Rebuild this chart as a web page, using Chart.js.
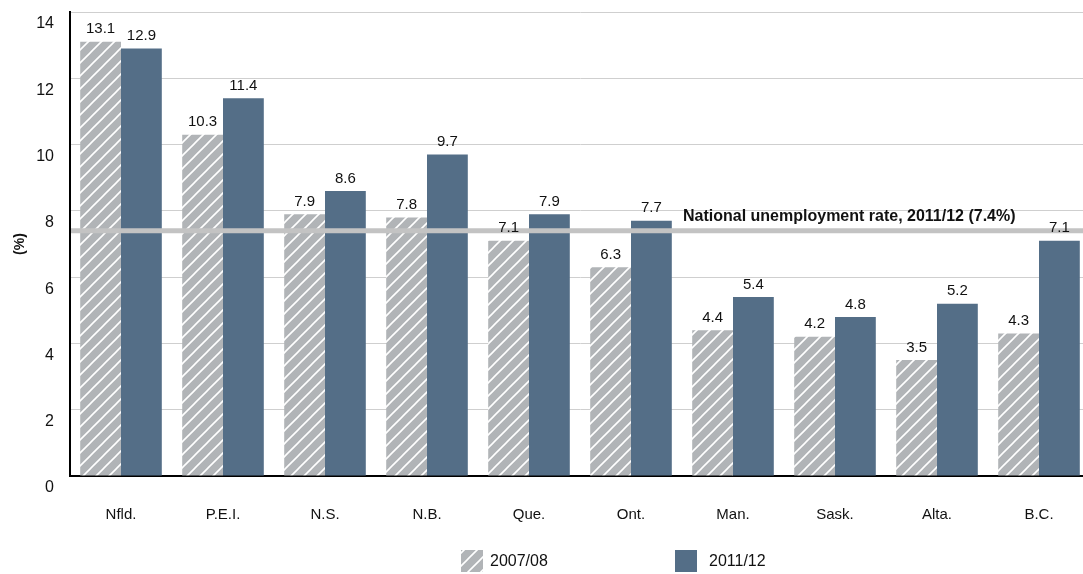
<!DOCTYPE html>
<html>
<head>
<meta charset="utf-8">
<script src="https://cdn.jsdelivr.net/npm/chart.js@4.4.1/dist/chart.umd.min.js"></script>
<style>
  html, body { margin: 0; padding: 0; background: #fff; overflow: hidden; }
  #wrap { position: relative; width: 1092px; height: 574px; }
</style>
</head>
<body>
<div id="wrap"><canvas id="c"></canvas></div>
<script>
const categories = ['Nfld.', 'P.E.I.', 'N.S.', 'N.B.', 'Que.', 'Ont.', 'Man.', 'Sask.', 'Alta.', 'B.C.'];
const series2007 = [13.1, 10.3, 7.9, 7.8, 7.1, 6.3, 4.4, 4.2, 3.5, 4.3];
const series2011 = [12.9, 11.4, 8.6, 9.7, 7.9, 7.7, 5.4, 4.8, 5.2, 7.1];
const seriesNames = ['2007/08', '2011/12'];
const nationalRate = 7.4;
const nationalLabel = 'National unemployment rate, 2011/12 (7.4%)';
const yTicks = [0, 2, 4, 6, 8, 10, 12, 14];

const FONT = "'Liberation Sans', Arial, sans-serif";
const GRAY = '#b1b4b7';
const BLUE = '#546e87';

function makeHatch() {
  const s = 13;
  const p = document.createElement('canvas');
  p.width = s; p.height = s;
  const g = p.getContext('2d');
  g.fillStyle = GRAY;
  g.fillRect(0, 0, s, s);
  g.strokeStyle = '#ffffff';
  g.lineWidth = 1.6;
  g.beginPath();
  g.moveTo(-2, s + 2); g.lineTo(s + 2, -2);
  g.moveTo(-2, 2); g.lineTo(2, -2);
  g.moveTo(s - 2, s + 2); g.lineTo(s + 2, s - 2);
  g.stroke();
  return g.createPattern(p, 'repeat');
}
const hatch = makeHatch();

const overlay = {
  id: 'overlay',
  afterDatasetsDraw(chart) {
    const ctx = chart.ctx;
    const y = chart.scales.y.getPixelForValue(nationalRate);
    const area = chart.chartArea;
    ctx.save();
    ctx.strokeStyle = '#c3c3c3';
    ctx.lineWidth = 5;
    ctx.beginPath();
    ctx.moveTo(area.left + 1, y);
    ctx.lineTo(area.right, y);
    ctx.stroke();
    ctx.fillStyle = '#111';
    ctx.font = 'bold 16px ' + FONT;
    ctx.textAlign = 'left';
    ctx.textBaseline = 'alphabetic';
    ctx.fillText(nationalLabel, 683, y - 10);
    // value labels
    ctx.font = '15px ' + FONT;
    ctx.textAlign = 'center';
    ctx.textBaseline = 'bottom';
    chart.data.datasets.forEach((ds, i) => {
      const meta = chart.getDatasetMeta(i);
      meta.data.forEach((bar, j) => {
        ctx.fillText(ds.data[j].toFixed(1), bar.x, bar.y - 5);
      });
    });
    // legend
    const items = [{x: 461, tx: 490, fill: hatch}, {x: 675, tx: 709, fill: BLUE}];
    ctx.textAlign = 'left';
    ctx.textBaseline = 'middle';
    ctx.font = '16px ' + FONT;
    items.forEach((it, i) => {
      ctx.fillStyle = it.fill;
      ctx.fillRect(it.x, 550, 22, 22);
      ctx.fillStyle = '#111';
      ctx.fillText(seriesNames[i], it.tx, 562);
    });
    ctx.restore();
  }
};

new Chart(document.getElementById('c'), {
  type: 'bar',
  data: {
    labels: categories,
    datasets: [
      { label: seriesNames[0], data: series2007, backgroundColor: hatch, borderWidth: 0 },
      { label: seriesNames[1], data: series2011, backgroundColor: BLUE, borderWidth: 0 }
    ]
  },
  options: {
    responsive: true,
    maintainAspectRatio: false,
    animation: false,
    layout: { padding: { top: 12, right: 2, left: 0, bottom: 0 } },
    datasets: { bar: { categoryPercentage: 0.8, barPercentage: 1.0 } },
    plugins: { legend: { display: false }, tooltip: { enabled: false } },
    scales: {
      x: {
        grid: { display: false, drawTicks: false },
        border: { color: '#000', width: 2 },
        ticks: { color: '#111', font: { family: FONT, size: 15 }, padding: 30 },
        afterFit(s) { s.height = 98; s.paddingLeft = 0; s.paddingRight = 0; }
      },
      y: {
        min: 0, max: 14,
        afterBuildTicks(s) { s.ticks = yTicks.map(v => ({ value: v })); },
        grid: { color: '#cfcfcf', lineWidth: 1, drawTicks: false },
        border: { color: '#000', width: 2 },
        ticks: { color: '#111', font: { family: FONT, size: 16 }, padding: 16, labelOffset: 12 },
        title: { display: true, text: '(%)', color: '#111', font: { family: FONT, size: 14, weight: 'bold' }, padding: { top: 12, bottom: 0 } },
        afterFit(s) { s.width = 70; s.paddingTop = 0; s.paddingBottom = 0; }
      }
    }
  },
  plugins: [overlay]
});
</script>
</body>
</html>
